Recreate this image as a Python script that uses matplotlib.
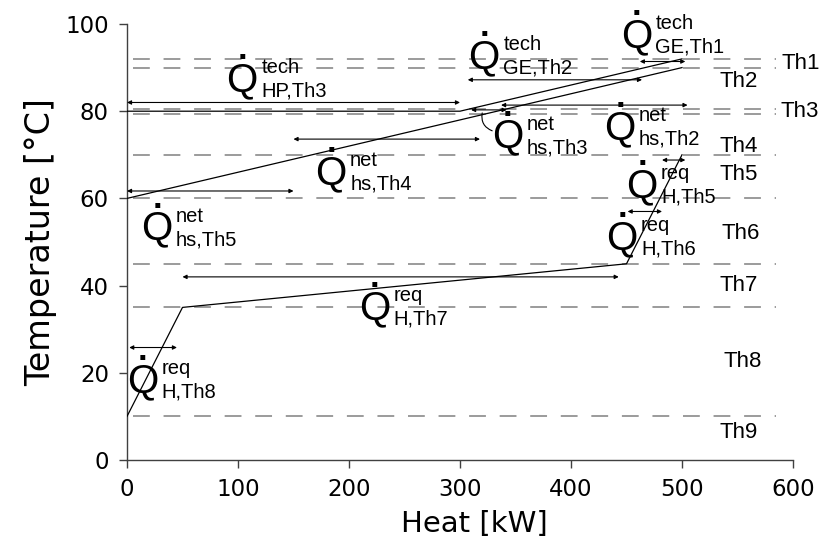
import matplotlib
matplotlib.use("Agg")
import matplotlib.pyplot as plt

# ---- data ----
source_x = [0, 500]
source_y = [60, 90]
tech_x = [0, 300, 500]
tech_y = [80, 80, 92]
req_x = [0, 50, 450, 500]
req_y = [10, 35, 45, 70]

boundaries = [92, 90, 80.6, 79.4, 70, 60, 45, 35, 10]

interval_labels = ["Th1", "Th2", "Th3", "Th4", "Th5", "Th6", "Th7", "Th8", "Th9"]
interval_label_x = [590, 534, 589, 534, 534, 536, 534, 537, 534]
interval_label_y = [90.9, 86.7, 80.0, 71.8, 65.4, 52.0, 40.1, 22.5, 6.2]

# heat arrows: start kW, end kW, temperature
arrow_x0 = [462, 307, 0, 337, 310, 150, 0, 482, 451, 50, 2]
arrow_x1 = [503, 464, 300, 505, 342, 318, 150, 503, 482, 443, 45]
arrow_y = [91.4, 87.2, 82.0, 81.4, 80.3, 73.6, 61.7, 68.8, 57.0, 42.0, 25.8]

# Q labels: Q left/baseline in data coords, superscript, subscript
q_x = [446, 309, 91, 330, 431, 171, 14, 451, 433, 210, 1]
q_y = [94.7, 89.9, 84.6, 71.6, 73.6, 63.3, 50.5, 60.3, 48.4, 32.3, 15.6]
q_sup = ["tech", "tech", "tech", "net", "net", "net", "net", "req", "req", "req", "req"]
q_sub = ["GE,Th1", "GE,Th2", "HP,Th3", "hs,Th3", "hs,Th2", "hs,Th4", "hs,Th5",
         "H,Th5", "H,Th6", "H,Th7", "H,Th8"]

xticks = [0, 100, 200, 300, 400, 500, 600]
yticks = [0, 20, 40, 60, 80, 100]

# ---- figure ----
fig = plt.figure(figsize=(8.21, 5.56), dpi=100)
ax = fig.add_axes([127 / 821, 96 / 556, (793 - 127) / 821, (460 - 24) / 556])
ax.set_xlim(0, 600)
ax.set_ylim(0, 100)

for b in boundaries:
    ax.plot([5, 585], [b, b], color="#808080", lw=1.1, dashes=(11, 9), zorder=1)

ax.plot(source_x, source_y, color="black", lw=0.9, zorder=3)
ax.plot(tech_x, tech_y, color="black", lw=0.9, zorder=3)
ax.plot(req_x, req_y, color="black", lw=0.9, zorder=3)

for x0, x1, y in zip(arrow_x0, arrow_x1, arrow_y):
    ax.annotate("", xy=(x1, y), xytext=(x0, y),
                arrowprops=dict(arrowstyle="<|-|>", lw=0.8, color="black",
                                mutation_scale=6, shrinkA=0, shrinkB=0),
                zorder=4)

# curved leader for Q_hs,Th3
ax.annotate("", xy=(320, 79.6), xytext=(329, 75.5),
            arrowprops=dict(arrowstyle="-", lw=0.8, color="black",
                            connectionstyle="arc3,rad=-0.4", shrinkA=0, shrinkB=0))

lab_font = "Liberation Sans"
for x, y, sup, sub in zip(q_x, q_y, q_sup, q_sub):
    ax.annotate("Q", xy=(x, y), xytext=(-1, 0), textcoords="offset points",
                fontsize=29, family=lab_font, ha="left", va="baseline")
    ax.annotate(".", xy=(x, y), xytext=(10.5, 23), textcoords="offset points",
                fontsize=25, fontweight="bold", family=lab_font,
                ha="center", va="baseline")
    ax.annotate(sup, xy=(x, y), xytext=(24, 13), textcoords="offset points",
                fontsize=14.5, family=lab_font, ha="left", va="baseline")
    ax.annotate(sub, xy=(x, y), xytext=(24, -4), textcoords="offset points",
                fontsize=14.5, family=lab_font, ha="left", va="baseline")

for t, x, y in zip(interval_labels, interval_label_x, interval_label_y):
    ax.text(x, y, t, fontsize=16, family=lab_font, ha="left", va="center")

for s in ["top", "right"]:
    ax.spines[s].set_visible(False)
for s in ["left", "bottom"]:
    ax.spines[s].set_color("#404040")
    ax.spines[s].set_linewidth(1.0)

ax.set_xticks(xticks)
ax.set_yticks(yticks)
ax.tick_params(direction="out", length=6, width=1, color="#404040",
               labelsize=16.5, pad=7)
ax.set_xlabel("Heat [kW]", fontsize=21)
ax.xaxis.set_label_coords(0.521, -0.115)
ax.set_ylabel("Temperature [°C]", fontsize=24, labelpad=6)

fig.savefig("out.png", dpi=100)
